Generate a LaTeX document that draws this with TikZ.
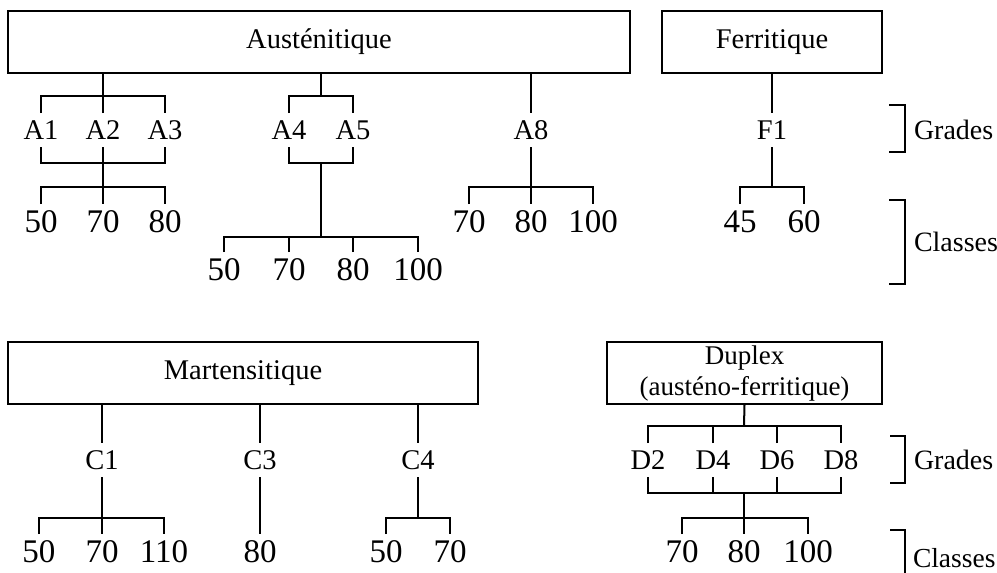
\documentclass[tikz,border=0pt]{standalone}
\usepackage{fontspec}
\setmainfont{Liberation Serif}
\begin{document}
\begin{tikzpicture}[x=1pt,y=-1pt,line width=2pt,
  famille/.style={draw,line width=2pt,inner sep=0pt,font=\fontsize{28.5}{35}\selectfont,align=center},
  texte/.style={inner sep=0pt,font=\fontsize{27}{31.5}\selectfont,align=center},
  grade/.style={inner sep=0pt,minimum height=32pt,font=\fontsize{28.5}{34}\selectfont},
  classe/.style={inner sep=0pt,minimum height=34pt,font=\fontsize{33}{38}\selectfont},
  legende/.style={inner sep=0pt,anchor=west,font=\fontsize{28}{34}\selectfont}]
\useasboundingbox (0,0) rectangle (997,573);
% ---------- boxes
\node[famille,minimum width=622pt,minimum height=62pt] (aus) at (319,42) {Austénitique};
\node[famille,minimum width=220pt,minimum height=62pt] (fer) at (772,42) {Ferritique};
\node[famille,minimum width=470pt,minimum height=62pt] (mar) at (243,373) {Martensitique};
\node[famille,minimum width=275pt,minimum height=62pt] (dup) at (744.5,373) {};
\node[texte] (duptxt) at (744.5,373.5) {Duplex\\(austéno-ferritique)};
% ---------- grades
\node[grade] (A1) at (41,130) {A1};
\node[grade] (A2) at (103,130) {A2};
\node[grade] (A3) at (165,130) {A3};
\node[grade] (A4) at (289,130) {A4};
\node[grade] (A5) at (353,130) {A5};
\node[grade] (A8) at (531,130) {A8};
\node[grade] (F1) at (772,130) {F1};
\node[grade] (C1) at (102,460) {C1};
\node[grade] (C3) at (260,460) {C3};
\node[grade] (C4) at (418,460) {C4};
\node[grade] (D2) at (648,460) {D2};
\node[grade] (D4) at (713,460) {D4};
\node[grade] (D6) at (777,460) {D6};
\node[grade] (D8) at (841,460) {D8};
% ---------- classes
\node[classe] (a50) at (41,222) {50};
\node[classe] (a70) at (103,222) {70};
\node[classe] (a80) at (165,222) {80};
\node[classe] (b50) at (224,270) {50};
\node[classe] (b70) at (289,270) {70};
\node[classe] (b80) at (353,270) {80};
\node[classe] (b100) at (418,270) {100};
\node[classe] (c70) at (469,222) {70};
\node[classe] (c80) at (531,222) {80};
\node[classe] (c100) at (593,222) {100};
\node[classe] (d45) at (740,222) {45};
\node[classe] (d60) at (804,222) {60};
\node[classe] (e50) at (39,552) {50};
\node[classe] (e70) at (102,552) {70};
\node[classe] (e110) at (164,552) {110};
\node[classe] (e80) at (260,552) {80};
\node[classe] (f50) at (386,552) {50};
\node[classe] (f70) at (450,552) {70};
\node[classe] (g70) at (682,552) {70};
\node[classe] (g80) at (744,552) {80};
\node[classe] (g100) at (808,552) {100};
% ---------- junctions
\coordinate (j1) at (103,96);
\coordinate (j2) at (103,163);
\coordinate (j3) at (103,187);
\coordinate (j4) at (321,96);
\coordinate (j5) at (321,163);
\coordinate (j6) at (321,237);
\coordinate (j7) at (531,187);
\coordinate (j8) at (772,187);
\coordinate (k1) at (102,518);
\coordinate (k2) at (418,518);
\coordinate (k3) at (744,426);
\coordinate (k4) at (744,493);
\coordinate (k5) at (744,518);
% ---------- Austenitique A1-A3
\draw (aus.south -| j1) -- (j1);
\draw (A1.north) |- (j1) -| (A3.north);
\draw (A2.north) -- (j1);
\draw (A1.south) |- (j2) -| (A3.south);
\draw (A2.south) -- (a70.north);
\draw (a50.north) |- (j3) -| (a80.north);
% A4-A5
\draw (aus.south -| j4) -- (j4);
\draw (A4.north) |- (j4) -| (A5.north);
\draw (A4.south) |- (j5) -| (A5.south);
\draw (j5) -- (j6);
\draw (b50.north) |- (j6) -| (b100.north);
\draw (b70.north) -- (b70.north |- j6);
\draw (b80.north) -- (b80.north |- j6);
% A8
\draw (aus.south -| A8) -- (A8.north);
\draw (A8.south) -- (c80.north);
\draw (c70.north) |- (j7) -| (c100.north);
% Ferritique
\draw (fer.south) -- (F1.north);
\draw (F1.south) -- (j8);
\draw (d45.north) |- (j8) -| (d60.north);
% Martensitique
\draw (mar.south -| C1) -- (C1.north);
\draw (mar.south -| C3) -- (C3.north);
\draw (mar.south -| C4) -- (C4.north);
\draw (C1.south) -- (e70.north);
\draw (e50.north) |- (k1) -| (e110.north);
\draw (C3.south) -- (e80.north);
\draw (C4.south) -- (k2);
\draw (f50.north) |- (k2) -| (f70.north);
% Duplex
\draw (dup.south) -- (k3);
\draw (D2.north) |- (k3) -| (D8.north);
\draw (D4.north) -- (D4.north |- k3);
\draw (D6.north) -- (D6.north |- k3);
\draw (D2.south) |- (k4) -| (D8.south);
\draw (D4.south) -- (D4.south |- k4);
\draw (D6.south) -- (D6.south |- k4);
\draw (k4) -- (g80.north);
\draw (g70.north) |- (k5) -| (g100.north);
% ---------- legend
\node[legende] (lg1) at (913,130) {Grades};
\node[legende] (lc1) at (913,242) {Classes};
\node[legende] (lg2) at (913,460) {Grades};
\node[legende,font=\fontsize{27.5}{33}\selectfont] (lc2) at (912,558) {Classes};
\draw (889,105) -- (905,105) -- (905,152) -- (889,152);
\draw (889,200) -- (905,200) -- (905,284) -- (889,284);
\draw (890,436) -- (905,436) -- (905,483) -- (890,483);
\draw (890,530) -- (905,530) -- (905,580);
\end{tikzpicture}
\end{document}
